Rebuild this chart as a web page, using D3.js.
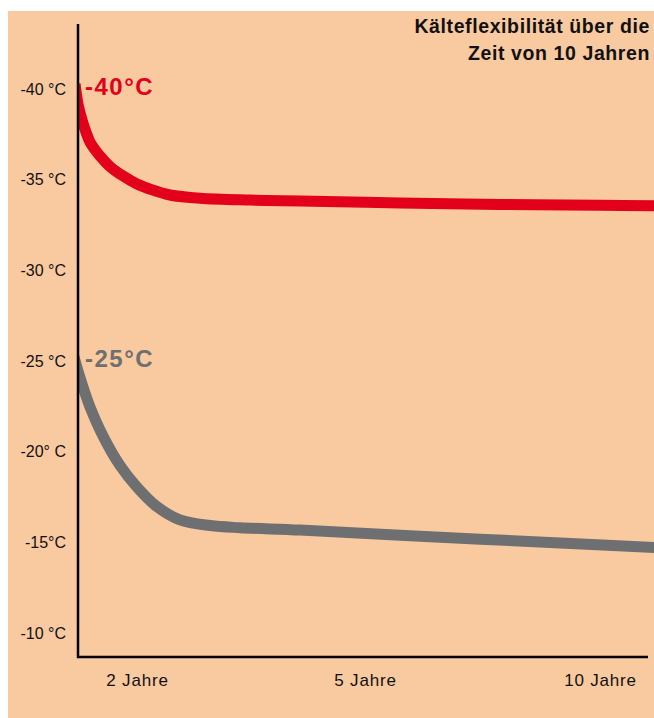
<!DOCTYPE html>
<html>
<head>
<meta charset="utf-8">
<script src="https://cdn.jsdelivr.net/npm/d3@7"></script>
<style>
  html, body { margin: 0; padding: 0; background: #ffffff; }
  svg { display: block; font-family: "Liberation Sans", Arial, Helvetica, sans-serif; }
</style>
</head>
<body>
<svg id="chart" width="654" height="718"></svg>
<script>
// ---- data ----
const titleLines = ["Kälteflexibilität über die", "Zeit von 10 Jahren"];

const yTickValues = [-40, -35, -30, -25, -20, -15, -10];
const yTickLabels = ["-40 °C", "-35 °C", "-30 °C", "-25 °C", "-20° C", "-15°C", "-10 °C"];

const xTickValues = [2, 5, 10];
const xTickLabels = ["2 Jahre", "5 Jahre", "10 Jahre"];

// years since start (first point sits just behind the axis, where the band is cut off)
const redYears = [-0.1, 0, 0.136, 0.271, 0.407, 0.746, 1.085, 1.525, 2.0, 2.21, 2.434, 2.829, 3.487, 4.145, 5.745, 7.872, 10, 11.3];
const redTemps = [-40.22, -39.12, -38.24, -37.57, -37.02, -36.25, -35.67, -35.15, -34.71, -34.37, -34.10, -33.92, -33.82, -33.77, -33.66, -33.58, -33.53, -33.51];

const grayYears = [-0.17, 0, 0.203, 0.407, 0.847, 1.424, 2.0, 2.263, 2.566, 2.961, 3.355, 4.145, 5.745, 9.149, 11.3];
const grayTemps = [-25.36, -24.39, -23.35, -22.41, -20.81, -19.18, -17.99, -16.91, -16.18, -15.87, -15.75, -15.62, -15.33, -14.91, -14.64];

const seriesNames = ["-40°C", "-25°C"];
const seriesLabelTemps = [-40, -25];
const seriesColors = ["#e2001a", "#6e6f71"];

// ---- layout ----
const svg = d3.select("#chart");
const axisX = 78, axisTop = 24, axisBottom = 657, axisRight = 648;

const x = d3.scaleLinear().domain([0, 2, 5, 10, 11.02]).range([78, 137, 365, 600, 648]);
const y = d3.scaleLinear().domain([-40, -10]).range([88, 632]);

// background panel
svg.append("rect").attr("x", 8).attr("y", 11).attr("width", 646).attr("height", 707).attr("fill", "#f9c9a0");

// title
const title = svg.append("text").attr("text-anchor", "end").attr("font-weight", "bold")
  .attr("font-size", 19.5).attr("letter-spacing", "0.6px").attr("fill", "#111");
titleLines.forEach((t, i) => {
  title.append("tspan").attr("x", 650).attr("y", 33 + i * 27).text(t);
});

// clip for curves
svg.append("clipPath").attr("id", "plotClip").append("rect")
  .attr("x", axisX + 1).attr("y", 0).attr("width", 654).attr("height", axisBottom);

const line = d3.line().x(d => x(d[0])).y(d => y(d[1])).curve(d3.curveCatmullRom.alpha(0.5));

const series = [
  { data: d3.zip(redYears, redTemps), color: seriesColors[0], name: seriesNames[0], labelT: seriesLabelTemps[0] },
  { data: d3.zip(grayYears, grayTemps), color: seriesColors[1], name: seriesNames[1], labelT: seriesLabelTemps[1] }
];

const g = svg.append("g").attr("clip-path", "url(#plotClip)");
series.forEach(s => {
  g.append("path").attr("d", line(s.data)).attr("fill", "none")
    .attr("stroke", s.color).attr("stroke-width", 11).attr("stroke-linecap", "butt");
});

// series labels
series.forEach(s => {
  svg.append("text").attr("x", x(0) + 7).attr("y", y(s.labelT) + 7)
    .attr("font-size", 24).attr("font-weight", "bold").attr("letter-spacing", "1.5px")
    .attr("fill", s.color).text(s.name);
});

// y axis
const yAxis = d3.axisLeft(y).tickValues(yTickValues).tickSize(0).tickPadding(12)
  .tickFormat((d, i) => yTickLabels[i]);
const yg = svg.append("g").attr("transform", `translate(${axisX},0)`).call(yAxis);
yg.select(".domain").remove();
yg.selectAll("text").attr("font-size", 16).attr("fill", "#111").attr("dy", "0.38em")
  .style("font-family", "'Liberation Sans', Arial, sans-serif");

// x axis
const xAxis = d3.axisBottom(x).tickValues(xTickValues).tickSize(0)
  .tickFormat((d, i) => xTickLabels[i]);
const xg = svg.append("g").attr("transform", `translate(0,${axisBottom})`).call(xAxis);
xg.select(".domain").remove();
xg.selectAll("text").attr("font-size", 17).attr("fill", "#111").attr("y", 29).attr("dy", 0)
  .attr("letter-spacing", "0.8px")
  .style("font-family", "'Liberation Sans', Arial, sans-serif");

// axis lines
svg.append("path")
  .attr("d", `M${axisX},${axisTop}V${axisBottom}H${axisRight}`)
  .attr("fill", "none").attr("stroke", "#000").attr("stroke-width", 2.5);
</script>
</body>
</html>
